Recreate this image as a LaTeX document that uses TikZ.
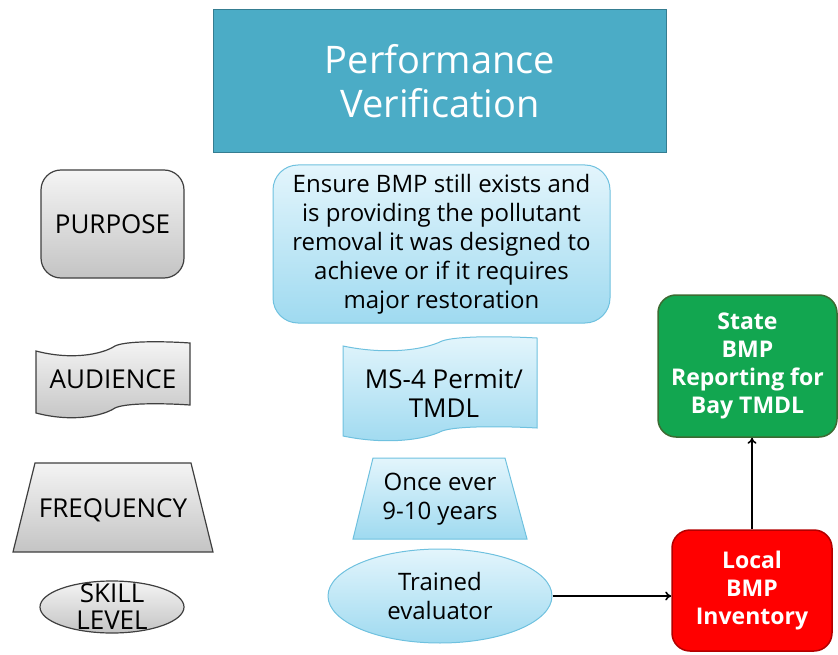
\documentclass[tikz,border=0pt]{standalone}
\usepackage{fontspec}
\setmainfont{Open Sans}
\usetikzlibrary{shapes.geometric,arrows.meta}
\definecolor{titlefill}{HTML}{4BACC6}
\definecolor{titleline}{HTML}{357D91}
\definecolor{blueTop}{HTML}{E3F5FC}
\definecolor{blueBot}{HTML}{9FDAF0}
\definecolor{blueLine}{HTML}{6FC1DF}
\definecolor{grayTop}{HTML}{F4F4F4}
\definecolor{grayBot}{HTML}{C4C4C4}
\definecolor{grayLine}{HTML}{3F3F3F}
\definecolor{greenFill}{HTML}{12A650}
\definecolor{greenLine}{HTML}{3C6B32}
\definecolor{redFill}{HTML}{FF0000}
\definecolor{redLine}{HTML}{B30000}
\begin{document}
\begin{tikzpicture}[x=1pt,y=-1pt,
  graybox/.style={draw=grayLine, line width=1.2pt, top color=grayTop, bottom color=grayBot},
  bluebox/.style={draw=blueLine, line width=1pt, top color=blueTop, bottom color=blueBot},
  lbl/.style={align=center, font=\fontsize{26}{27}\selectfont, text=black, inner sep=0pt},
  btxt/.style={align=center, font=\fontsize{24}{29}\selectfont, text=black, inner sep=0pt},
  wtxt/.style={align=center, font=\bfseries\fontsize{23}{28}\selectfont, text=white, inner sep=0pt},
  conn/.style={line width=1.6pt, -{To[length=6pt,width=9pt]}}
]
\useasboundingbox (0,0) rectangle (838,655);

% title
\node[draw=titleline, fill=titlefill, line width=1.5pt, minimum width=453pt, minimum height=143pt,
      text=white, font=\fontsize{38}{44}\selectfont, align=center] (title) at (440,81) {Performance\\Verification};

% left column
\node[graybox, rounded corners=20pt, minimum width=143pt, minimum height=108pt, lbl] (purpose) at (112.5,224) {PURPOSE};

\path[graybox] (36,351) .. controls (70,360) and (101,355) .. (115,346) .. controls (125,341) and (161,341) .. (190,343)
  -- (190,405) .. controls (161,403) and (125,403) .. (115,408) .. controls (101,417) and (70,422) .. (36,413) -- cycle;
\node[lbl] (audience) at (113,379) {AUDIENCE};

\path[graybox] (35,463) -- (191,463) -- (213,552) -- (13,552) -- cycle;
\node[lbl] (frequency) at (113,510) {FREQUENCY};

\path[graybox] (112,607) ellipse [x radius=72, y radius=26];
\node[lbl] (skill) at (112,607) {SKILL\\LEVEL};

% middle column
\node[bluebox, rounded corners=25pt, minimum width=337pt, minimum height=158pt, btxt] (ptext) at (441.5,244)
  {Ensure BMP still exists and\\is providing the pollutant\\removal it was designed to\\achieve or if it requires\\major restoration};

\path[bluebox] (343,346) .. controls (386,355) and (424,350) .. (442,341) .. controls (456,336) and (500,336) .. (537,338)
  -- (537,428) .. controls (500,426) and (456,426) .. (442,431) .. controls (424,440) and (386,445) .. (343,436) -- cycle;
\node[btxt, font=\fontsize{26}{29}\selectfont] (ms4) at (444,393) {MS-4 Permit/\\TMDL};

\path[bluebox] (373,458) -- (505,458) -- (527,539) -- (353,539) -- cycle;
\node[btxt] (once) at (440,499) {Once ever\\9-10 years};

\node[bluebox, ellipse, minimum width=224pt, minimum height=94pt, btxt] (trained) at (440,596) {Trained\\evaluator};

% right column
\node[draw=redLine, fill=redFill, line width=1.5pt, rounded corners=18pt, minimum width=160pt, minimum height=121pt, wtxt] (local) at (752,590.5) {Local\\BMP\\Inventory};
\node[draw=greenLine, fill=greenFill, line width=1.5pt, rounded corners=18pt, minimum width=179pt, minimum height=142pt, wtxt] (state) at (747.5,366) {State\\BMP\\Reporting for\\Bay TMDL};

\draw[conn] (trained.east) -- (trained.east -| local.west);
\draw[conn] (local.north) -- (local.north |- state.south);
\end{tikzpicture}
\end{document}
